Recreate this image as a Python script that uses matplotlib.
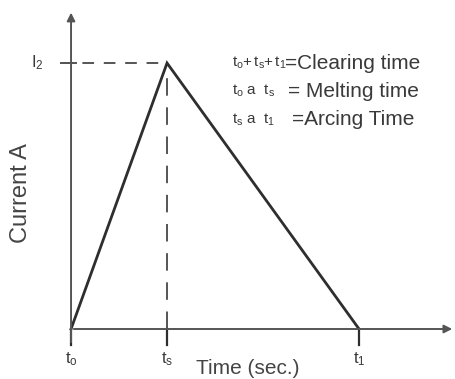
import matplotlib.pyplot as plt

plt.rcParams['font.family'] = ['Liberation Sans', 'DejaVu Sans']
plt.rcParams['mathtext.fontset'] = 'custom'
plt.rcParams['mathtext.rm'] = 'Liberation Sans'
plt.rcParams['mathtext.it'] = 'Liberation Sans'

# fuse current waveform: rise to I2 at ts, arc extinguished at t1
tiempos = [0, 1, 3]
corriente = [0, 1, 0]
etiquetas_t = [r'$\mathrm{t_o}$', r'$\mathrm{t_s}$', r'$\mathrm{t_1}$']
leyenda_t = [r'$\mathrm{t_o{+}\,t_s{+}\,t_1}$',
             r'$\mathrm{t_o\ a\ \ t_s}$',
             r'$\mathrm{t_s\ a\ \ t_1}$']
leyenda_txt = ['=Clearing time', '= Melting time', '=Arcing Time']

fig = plt.figure(figsize=(4.56, 3.79), dpi=100)
ax = fig.add_axes([0, 0, 1, 1])
ax.set_xlim(-0.74, 4.01)
ax.set_ylim(-0.188, 1.237)
ax.axis('off')

eje = '#555555'
linea = '#2e2e2e'
texto = '#3a3a3a'

# ejes con flecha
ax.annotate('', xy=(0, 1.2), xytext=(0, -0.06),
            arrowprops=dict(arrowstyle='-|>', color=eje, lw=1.4, mutation_scale=12))
ax.annotate('', xy=(4.0, 0), xytext=(0, 0),
            arrowprops=dict(arrowstyle='-|>', color=eje, lw=1.4, mutation_scale=12))

# forma de onda
ax.plot(tiempos, corriente, color=linea, lw=2, solid_joinstyle='miter')

# guías punteadas hacia I2
ax.plot([-0.1, tiempos[1] - 0.04], [corriente[1], corriente[1]], color=eje, lw=1.4,
        dashes=(6, 5))
ax.plot([-0.1, 0.05], [corriente[1], corriente[1]], color=eje, lw=1.4)
ax.plot([tiempos[1], tiempos[1]], [0, corriente[1] - 0.05], color=eje, lw=1.4,
        dashes=(9, 6))

# marcas bajo el eje de tiempo
for t, et in zip(tiempos, etiquetas_t):
    ax.plot([t, t], [0, -0.06], color=linea, lw=1.6)
    ax.text(t, -0.112, et, fontsize=12, ha='center', va='center', color=texto)

ax.text(-0.35, corriente[1], r'$\mathrm{I_2}$', fontsize=12, ha='center', va='center',
        color=texto)

x_desc = [2.23, 2.26, 2.30]
for i, (tt, txt) in enumerate(zip(leyenda_t, leyenda_txt)):
    y = 1.0 - i * 0.106
    ax.text(1.677, y, tt, fontsize=11, ha='left', va='center', color=texto)
    ax.text(x_desc[i], y, txt, fontsize=15, ha='left', va='center', color=texto)

ax.text(-0.52, 0.51, 'Current A', fontsize=17, rotation=90, ha='center', va='center',
        color='#444444')
ax.text(1.84, -0.147, 'Time (sec.)', fontsize=15, ha='center', va='center',
        color='#444444')

fig.savefig('out.png', dpi=100)
